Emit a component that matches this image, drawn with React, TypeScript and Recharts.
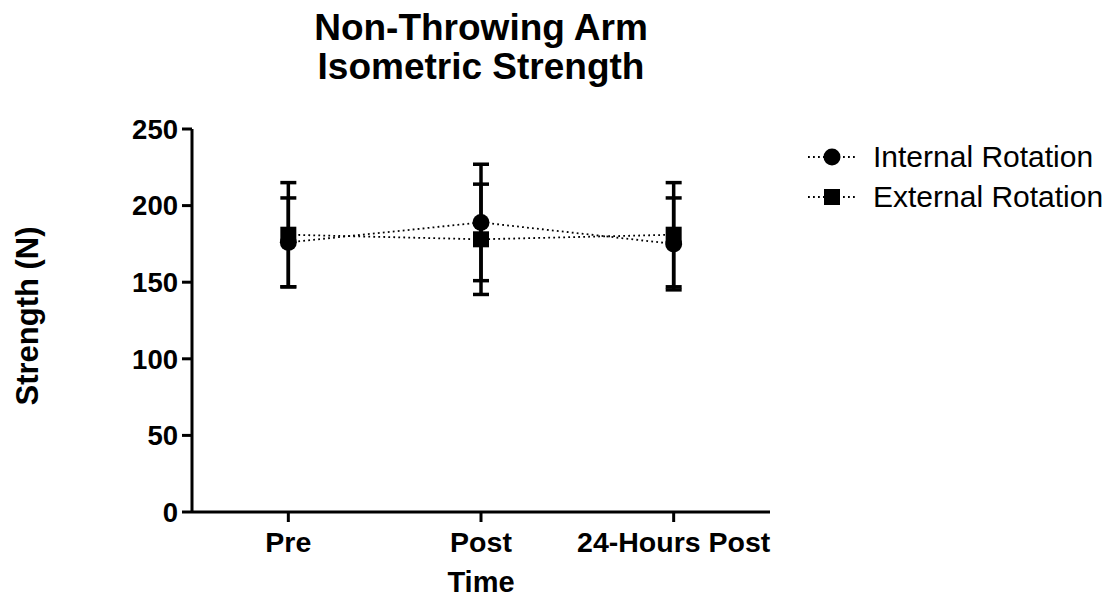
import React from 'react';
import {
  ComposedChart, Line, XAxis, YAxis, ErrorBar
} from 'recharts';

const categories = ['Pre', 'Post', '24-Hours Post'];
const internalMean = [176, 189, 175];
const internalSD = [29, 38, 30];
const externalMean = [181, 178, 181];
const externalSD = [34, 36, 34];
const yTicks = [0, 50, 100, 150, 200, 250];

const data = categories.map((time, i) => ({
  time,
  internal: internalMean[i],
  internalErr: internalSD[i],
  external: externalMean[i],
  externalErr: externalSD[i],
}));

const FONT = '"Liberation Sans", Arial, Helvetica, sans-serif';

const CircleDot = (props: any) => {
  const { cx, cy } = props;
  if (cx == null || cy == null) return null;
  return <circle cx={cx} cy={cy} r={8.5} fill="#000" />;
};

const SquareDot = (props: any) => {
  const { cx, cy } = props;
  if (cx == null || cy == null) return null;
  return <rect x={cx - 8} y={cy - 8} width={16} height={16} fill="#000" />;
};

function ChartLegend() {
  const rows = [
    { name: 'Internal Rotation', shape: 'circle' },
    { name: 'External Rotation', shape: 'square' },
  ];
  return (
    <div style={{ position: 'absolute', left: 806, top: 137, fontFamily: FONT }}>
      {rows.map((r) => (
        <div key={r.name} style={{ display: 'flex', alignItems: 'center', height: 40 }}>
          <svg width={67} height={40}>
            <line x1={2} y1={20} x2={50} y2={20} stroke="#000" strokeWidth={1.8} strokeDasharray="1.8 3.2" />
            {r.shape === 'circle'
              ? <circle cx={26} cy={20} r={8.5} fill="#000" />
              : <rect x={18} y={12} width={16} height={16} fill="#000" />}
          </svg>
          <span style={{ fontSize: 30, color: '#000', lineHeight: '40px' }}>{r.name}</span>
        </div>
      ))}
    </div>
  );
}

export default function App() {
  return (
    <div style={{ position: 'absolute', left: 0, top: 0, width: 1114, height: 603, background: '#fff' }}>
      <div
        style={{
          position: 'absolute', left: 0, width: 962, top: 8, textAlign: 'center',
          fontFamily: FONT, fontWeight: 'bold', fontSize: 37, lineHeight: '39px', color: '#000',
        }}
      >
        Non-Throwing Arm<br />Isometric Strength
      </div>
      <ChartLegend />
      <ComposedChart
        width={1114}
        height={603}
        data={data}
        margin={{ top: 129, right: 344, bottom: 31, left: 0 }}
        style={{ position: 'absolute', left: 0, top: 0 }}
      >
        <XAxis
          dataKey="time"
          scale="band"
          height={60}
          stroke="#000"
          strokeWidth={3}
          tickSize={10}
          tickMargin={10}
          tick={{ fill: '#000', fontSize: 28.5, fontWeight: 'bold', fontFamily: FONT }}
          label={{
            content: () => (
              <text x={481} y={592} textAnchor="middle" fill="#000"
                style={{ fontSize: 29, fontWeight: 'bold', fontFamily: FONT }}>Time</text>
            ),
          }}
        />
        <YAxis
          width={192}
          domain={[0, 250]}
          ticks={yTicks}
          stroke="#000"
          strokeWidth={3}
          tickSize={10}
          tickMargin={4}
          tick={{ fill: '#000', fontSize: 27.5, fontWeight: 'bold', fontFamily: FONT }}
          label={{
            content: () => (
              <text x={38} y={316} textAnchor="middle" fill="#000" transform="rotate(-90 38 316)"
                style={{ fontSize: 31, fontWeight: 'bold', fontFamily: FONT }}>Strength (N)</text>
            ),
          }}
        />
        <Line
          dataKey="internal"
          name="Internal Rotation"
          stroke="#000"
          strokeWidth={1.8}
          strokeDasharray="1.8 3.2"
          dot={<CircleDot />}
          activeDot={false}
          isAnimationActive={false}
        >
          <ErrorBar dataKey="internalErr" direction="y" width={8} stroke="#000" strokeWidth={3.5} />
        </Line>
        <Line
          dataKey="external"
          name="External Rotation"
          stroke="#000"
          strokeWidth={1.8}
          strokeDasharray="1.8 3.2"
          dot={<SquareDot />}
          activeDot={false}
          isAnimationActive={false}
        >
          <ErrorBar dataKey="externalErr" direction="y" width={8} stroke="#000" strokeWidth={3.5} />
        </Line>
      </ComposedChart>
    </div>
  );
}
